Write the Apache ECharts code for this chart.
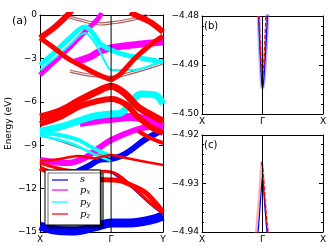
<!DOCTYPE html>
<html><head><meta charset="utf-8">
<script src="https://cdn.jsdelivr.net/npm/echarts@6/dist/echarts.min.js"></script>
<style>html,body{margin:0;padding:0;background:#fff}#c{width:336px;height:252px}</style>
</head><body><div id="c"></div>
<script>
// ---- tick labels ----
const mainTickK = [0, 1, 1.73];
const mainTickLabels = ['X', 'Γ', 'Y'];
const zoomTickK = [-1, 0, 1];
const zoomTickLabels = ['X', 'Γ', 'X'];
const legendNames = ['s', 'p_x', 'p_y', 'p_z'];

// ---- panel (a) bands: [k, E(eV)] ----
// s (blue)
const s_b1 = [[0,-14.58],[0.21,-14.86],[0.49,-14.93],[0.77,-14.65],[1,-14.37],[1.27,-14.37],[1.55,-14.17],[1.73,-13.89]];
const s_b2 = [[0.49,-10.9],[0.68,-10.45],[0.85,-10.0],[1,-9.95],[1.14,-9.75],[1.28,-9.33],[1.48,-8.6],[1.73,-7.95]];
const s_b3 = [[1,-10.85],[1.27,-11.82],[1.55,-13.06],[1.73,-13.75]];
// p_x (magenta)
const px_b1 = [[0,-4.15],[0.18,-3.32],[0.38,-2.42],[0.56,-1.52],[0.70,-0.83],[0.80,-0.35],[0.87,0.14]];
const px_b2 = [[0.49,-3.25],[0.70,-2.90],[0.85,-2.49],[1,-2.28],[1.31,-2.07],[1.73,-1.87]];
const px_b3 = [[0,-10.02],[0.38,-10.23],[0.63,-9.88],[0.85,-9.12],[1,-8.64],[1.34,-7.95],[1.55,-7.74],[1.73,-8.02]];
const px_b4 = [[0.56,-7.46],[0.85,-7.26],[1,-7.19],[1.28,-7.05],[1.52,-7.26],[1.73,-7.74]];
// p_y (cyan)
const py_b1 = [[0,-3.46],[0.21,-2.56],[0.42,-1.59],[0.63,-0.83],[0.73,-1.17],[0.85,-2.00],[1,-2.42],[1.20,-2.76],[1.48,-3.04],[1.73,-3.25]];
const py_b2 = [[0,-3.80],[0.21,-2.97],[0.42,-2.07],[0.63,-1.24],[0.78,-2.00],[0.94,-3.46],[1,-3.80],[1.31,-3.80],[1.73,-3.11]];
const py_b3 = [[0,-8.02],[0.28,-7.74],[0.54,-7.33],[0.77,-6.98],[1,-6.84],[1.14,-6.77],[1.28,-6.01],[1.42,-5.46],[1.62,-5.53],[1.73,-6.15]];
const py_b4 = [[0,-8.15],[0.28,-8.29],[0.54,-8.64],[0.72,-9.12],[0.92,-9.6],[1,-9.75]];
const py_b5 = [[0,-8.35],[0.42,-8.85],[0.75,-9.6],[1,-10.1]];
// p_z (red)
const pz_b1 = [[0,-1.59],[0.21,-0.83],[0.39,0],[0.45,0.35]];
const pz_b2 = [[0,-1.59],[0.18,-2.21],[0.38,-2.97],[0.56,-3.46],[0.80,-4.08],[1,-4.49]];
const pz_b3 = [[1,-4.49],[1.13,-4.08],[1.34,-2.97],[1.55,-2.07],[1.73,-1.45]];
const pz_b4 = [[1.27,0.2],[1.34,0],[1.55,-0.48],[1.73,-1.17]];
const pz_b5 = [[0,-7.05],[0.28,-6.64],[0.54,-5.94],[0.82,-5.25],[1,-4.93],[1.20,-5.46],[1.38,-6.36],[1.62,-7.05],[1.73,-7.33]];
const pz_b6 = [[0,-7.53],[0.28,-7.05],[0.54,-6.36],[0.82,-5.94],[1,-5.80],[1.20,-6.15],[1.38,-7.05],[1.56,-7.74],[1.73,-8.15]];
const pz_b7 = [[0,-10.23],[0.38,-10.71],[1,-10.85],[1.27,-11.75],[1.55,-12.99],[1.73,-13.68]];
const pz_b8 = [[0,-10.57],[0.38,-11.26],[1,-11.40],[1.13,-11.47],[1.31,-11.82],[1.45,-12.16],[1.55,-12.58],[1.73,-13.60]];
const pz_b9 = [[0,-10.09],[0.28,-9.95],[0.54,-9.74],[0.75,-9.9],[1,-9.68],[1.14,-9.81],[1.42,-10.09],[1.73,-10.37]];
const pz_b10 = [[1.38,-8.02],[1.55,-8.5],[1.73,-8.85]];
// thin mixed bands (dark red)
const mix_b1 = [[0.28,0],[0.56,-0.41],[0.85,-0.69],[1,-0.62],[1.27,-0.41],[1.55,0]];
const mix_b2 = [[0.28,0.15],[0.56,-0.26],[0.85,-0.54],[1,-0.47],[1.27,-0.26],[1.55,0.15]];
const mix_b3 = [[0.42,-3.80],[0.70,-4.08],[1,-4.22],[1.27,-3.94],[1.73,-3.25]];
const mix_b4 = [[0.42,-3.95],[0.70,-4.23],[1,-4.36],[1.27,-4.09],[1.73,-3.40]];
const mix_b5 = [[0.14,-8.5],[0.42,-8.95],[0.75,-9.5],[1,-9.9]];

// ---- panel (b) bands ----
const b_s  = [[-0.065,-4.480],[-0.05,-4.4845],[-0.035,-4.4885],[-0.02,-4.4920],[-0.01,-4.4940],[0,-4.4947],[0.015,-4.4938],[0.03,-4.4915],[0.05,-4.4875],[0.07,-4.4830],[0.09,-4.478]];
const b_pz = [[-0.06,-4.480],[-0.04,-4.4855],[-0.025,-4.4895],[-0.01,-4.4920],[0,-4.4927],[0.01,-4.4920],[0.025,-4.4895],[0.04,-4.4855],[0.06,-4.479]];
// ---- panel (c) bands ----
const c_s  = [[-0.08,-4.941],[-0.05,-4.9365],[-0.03,-4.9330],[-0.01,-4.9298],[0,-4.9287],[0.01,-4.9298],[0.03,-4.9330],[0.05,-4.9365],[0.08,-4.941]];
const c_pz = [[-0.11,-4.941],[-0.08,-4.9365],[-0.05,-4.9320],[-0.03,-4.9285],[-0.016,-4.9256],[0,-4.9265],[0.02,-4.9300],[0.05,-4.9350],[0.08,-4.939],[0.11,-4.943]];
const c_pzR = [[-0.016,-4.9256],[0,-4.9265],[0.02,-4.9300],[0.05,-4.9350],[0.08,-4.939],[0.11,-4.943]];

const COL = {s:'#0000ff', p_x:'#ff00ff', p_y:'#00ffff', p_z:'#ff0000', mix:'#b05a5a'};
const FONT = 'DejaVu Sans';

function band(name, data, width, color, idx, extra) {
  return Object.assign({
    type:'line', name:name, data:data, xAxisIndex:idx, yAxisIndex:idx*2,
    showSymbol:false, symbol:'none', smooth:0.35, silent:true,
    lineStyle:{width:width, color:color, cap:'butt'}, itemStyle:{color:color},
    animation:false, clip:true
  }, extra||{});
}
function vline(k, idx, ymin, ymax) {
  return {type:'line', data:[[k,ymin],[k,ymax]], xAxisIndex:idx, yAxisIndex:idx*2, showSymbol:false,
    symbol:'none', lineStyle:{width:1, color:'#000'}, silent:true, animation:false, z:5};
}

const series = [
  band('mix', mix_b1, 1.2, COL.mix, 0), band('mix', mix_b2, 1.2, COL.mix, 0),
  band('mix', mix_b3, 1.2, COL.mix, 0), band('mix', mix_b4, 1.2, COL.mix, 0),
  band('mix', mix_b5, 1.5, COL.mix, 0),
  band('s', s_b1, 9, COL.s, 0), band('s', s_b2, 6, COL.s, 0), band('s', s_b3, 2, COL.s, 0),
  band('p_x', px_b1, 5, COL.p_x, 0), band('p_x', px_b2, 7, COL.p_x, 0),
  band('p_x', px_b3, 6, COL.p_x, 0), band('p_x', px_b4, 8, COL.p_x, 0),
  band('p_y', py_b1, 5, COL.p_y, 0), band('p_y', py_b2, 2, COL.p_y, 0),
  band('p_y', py_b3, 7, COL.p_y, 0), band('p_y', py_b4, 4, COL.p_y, 0), band('p_y', py_b5, 2.5, COL.p_y, 0),
  band('p_z', pz_b1, 6, COL.p_z, 0), band('p_z', pz_b2, 5, COL.p_z, 0), band('p_z', pz_b3, 5, COL.p_z, 0),
  band('p_z', pz_b4, 6, COL.p_z, 0), band('p_z', pz_b5, 7, COL.p_z, 0), band('p_z', pz_b6, 6, COL.p_z, 0),
  band('p_z', pz_b7, 3, COL.p_z, 0), band('p_z', pz_b8, 5, COL.p_z, 0), band('p_z', pz_b9, 2.5, COL.p_z, 0),
  band('p_z', pz_b10, 4, COL.p_z, 0),
  vline(mainTickK[1], 0, -15, 0),
  // panel b
  band('bs_halo', b_s, 4, 'rgba(100,100,255,0.45)', 1),
  band('bs', b_s, 1.2, COL.s, 1),
  band('bpz', b_pz, 1.5, COL.p_z, 1, {lineStyle:{width:1.5, color:COL.p_z, type:[4,2]}}),
  vline(0, 1, -4.50, -4.48),
  // panel c
  band('cpz_halo', c_pz, 2.5, 'rgba(255,80,80,0.45)', 2),
  band('cs', c_s, 1.2, COL.s, 2),
  band('cpz', c_pzR, 1.5, COL.p_z, 2, {lineStyle:{width:1.5, color:COL.p_z, type:[4,2]}}),
  vline(0, 2, -4.94, -4.92)
];

const minus = v => (v < 0 ? '\u2212' + String(Math.abs(v)) : String(v));
const minus2 = v => (v < 0 ? '\u2212' + Math.abs(v).toFixed(2) : v.toFixed(2));
const axLbl = {fontFamily:FONT, fontSize:9, color:'#000'};

function xAx(idx, ticks, labels, min, max) {
  return {type:'value', gridIndex:idx, min:min, max:max, splitLine:{show:false},
    axisLine:{onZero:false, lineStyle:{color:'#000', width:1}},
    axisTick:{show:false},
    axisLabel:Object.assign({customValues:ticks, margin:3, formatter:v => {
      let i = ticks.findIndex(t => Math.abs(t - v) < 1e-6); return i >= 0 ? labels[i] : '';
    }}, axLbl)};
}
function topAx(idx, min, max) {
  return {type:'value', gridIndex:idx, min:min, max:max, position:'top', splitLine:{show:false},
    axisLine:{onZero:false, lineStyle:{color:'#000', width:1}}, axisTick:{show:false}, axisLabel:{show:false}};
}
function yAx(idx, min, max, interval, fmt, right, extra) {
  return Object.assign({type:'value', gridIndex:idx, min:min, max:max, interval:interval, position:right?'right':'left',
    splitLine:{show:false}, axisLine:{onZero:false, lineStyle:{color:'#000', width:1}},
    axisTick:{inside:true, length:4, lineStyle:{color:'#000'}},
    minorTick:{show:idx>0, splitNumber:5, length:2, lineStyle:{color:'#000'}},
    axisLabel:Object.assign({show:!right, formatter:fmt, margin:3}, axLbl)}, extra||{});
}

const option = {
  animation:false,
  backgroundColor:'#fff',
  grid:[
    {left:40, top:15, width:123, height:217},
    {left:202, top:16, width:121, height:98},
    {left:202, top:135, width:121, height:97}
  ],
  xAxis:[
    xAx(0, mainTickK, mainTickLabels, 0, 1.73),
    xAx(1, zoomTickK, zoomTickLabels, -1, 1),
    xAx(2, zoomTickK, zoomTickLabels, -1, 1),
    topAx(0, 0, 1.73), topAx(1, -1, 1), topAx(2, -1, 1)
  ],
  yAxis:[
    yAx(0, -15, 0, 3, minus, false, {name:'Energy (eV)', nameLocation:'middle', nameGap:27, nameRotate:90,
      nameTextStyle:{fontFamily:FONT, fontSize:9, color:'#000'}}),
    yAx(0, -15, 0, 3, minus, true),
    yAx(1, -4.50, -4.48, 0.01, minus2, false),
    yAx(1, -4.50, -4.48, 0.01, minus2, true),
    yAx(2, -4.94, -4.92, 0.01, minus2, false),
    yAx(2, -4.94, -4.92, 0.01, minus2, true)
  ],
  legend:{
    data:legendNames.map(n => ({name:n, itemStyle:{color:COL[n], opacity:0.6}})),
    orient:'vertical', left:45, top:170,
    icon:'rect', itemWidth:16, itemHeight:2, itemGap:1,
    padding:[4,10,5,7],
    backgroundColor:'#fff', borderColor:'#000', borderWidth:1,
    shadowColor:'rgba(0,0,0,0.55)', shadowOffsetX:3, shadowOffsetY:3, shadowBlur:0,
    selectedMode:false, z:10,
    formatter:n => n === 's' ? '{i|s}' : '{i|p}{sub|' + n.split('_')[1] + '}',
    textStyle:{padding:[0,0,0,7], height:12, rich:{
      i:{fontFamily:'DejaVu Serif', fontStyle:'italic', fontSize:10, color:'#000'},
      sub:{fontFamily:'DejaVu Serif', fontStyle:'italic', fontSize:7, color:'#000', padding:[5,0,0,0]}
    }}
  },
  graphic:[
    {type:'text', left:12, top:16, style:{text:'(a)', font:'11px "DejaVu Sans"', fill:'#000'}},
    {type:'text', left:204, top:21, style:{text:'(b)', font:'10px "DejaVu Sans"', fill:'#000'}},
    {type:'text', left:204, top:140, style:{text:'(c)', font:'10px "DejaVu Sans"', fill:'#000'}}
  ],
  series:series
};
echarts.init(document.getElementById('c'), null, {renderer:'canvas'}).setOption(option);
</script></body></html>
